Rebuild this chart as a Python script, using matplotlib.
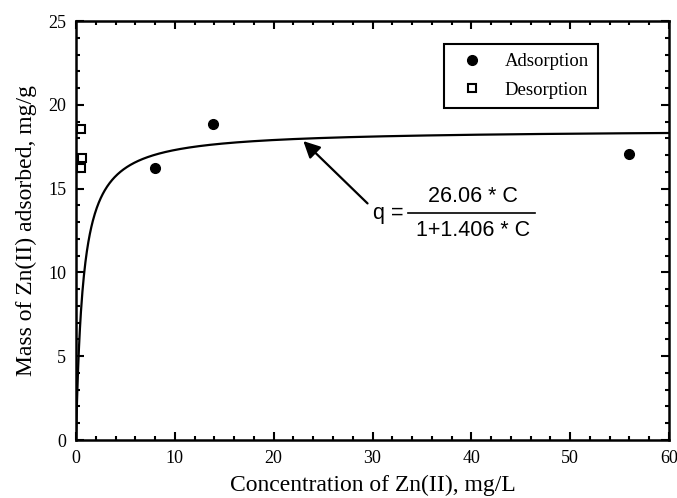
import numpy as np
import matplotlib
matplotlib.use('Agg')
import matplotlib.pyplot as plt

# adsorption / desorption data
ads_conc = [8.0, 13.9, 56.0]
ads_mass = [16.2, 18.85, 17.05]
des_conc = [0.47, 0.6, 0.47]
des_mass = [18.57, 16.83, 16.23]

# Langmuir fit  q = a*C / (1 + b*C)
a_fit = 26.06
b_fit = 1.406
C = np.linspace(0, 60, 1200)
q = a_fit * C / (1 + b_fit * C)

fig = plt.figure(figsize=(6.77, 4.98), dpi=100)
ax = fig.add_axes([76 / 677, 1 - 440 / 498, (669 - 76) / 677, (440 - 21) / 498])

ax.plot(C, q, color='black', lw=1.6)
ax.plot(ads_conc, ads_mass, 'o', color='black', ms=7, label='Adsorption')
ax.plot(des_conc, des_mass, 's', mfc='white', mec='black', mew=1.5, ms=6,
        label='Desorption', clip_on=False)

ax.set_xlim(0, 60)
ax.set_ylim(0, 25)
ax.set_xticks(np.arange(0, 61, 10))
ax.set_yticks(np.arange(0, 26, 5))
ax.set_xticks(np.arange(0, 61, 2), minor=True)
ax.set_yticks(np.arange(0, 26, 1), minor=True)
ax.tick_params(which='both', direction='in', top=True, right=True, width=1.5)
ax.tick_params(which='major', length=6, labelsize=13, pad=7)
ax.tick_params(which='minor', length=3)
for s in ax.spines.values():
    s.set_linewidth(1.8)
for lab in ax.get_xticklabels() + ax.get_yticklabels():
    lab.set_family('Liberation Serif')

ax.set_xlabel('Concentration of Zn(II), mg/L', family='Liberation Serif', fontsize=17, labelpad=6)
ax.set_ylabel('Mass of Zn(II) adsorbed, mg/g', family='Liberation Serif', fontsize=17, labelpad=8)

leg = ax.legend(loc='upper right', bbox_to_anchor=(598 / 677, 1 - 44 / 498),
                bbox_transform=fig.transFigure, borderaxespad=0,
                prop={'family': 'Liberation Serif', 'size': 13.5},
                fancybox=False, edgecolor='black', framealpha=1, borderpad=0.5,
                handletextpad=0.8, labelspacing=0.6, handlelength=1.9)
leg.get_frame().set_linewidth(1.5)

# equation with arrow
ax.annotate('', xy=(22.8, 17.95), xytext=(29.7, 14.0),
            arrowprops=dict(arrowstyle='-|>,head_length=1.0,head_width=0.5',
                            color='black', lw=1.6))
eq_font = dict(family='Liberation Sans', fontsize=15.5, color='black')
fig.text(373 / 677, 1 - 213 / 498, 'q =', ha='left', va='center', **eq_font)
fig.text(473 / 677, 1 - 196 / 498, '26.06 * C', ha='center', va='center', **eq_font)
fig.text(473 / 677, 1 - 231 / 498, '1+1.406 * C', ha='center', va='center', **eq_font)
fig.add_artist(plt.Line2D([408 / 677, 535 / 677], [1 - 213 / 498, 1 - 213 / 498],
                          color='black', lw=1.2))

fig.savefig('out.png', dpi=100)
